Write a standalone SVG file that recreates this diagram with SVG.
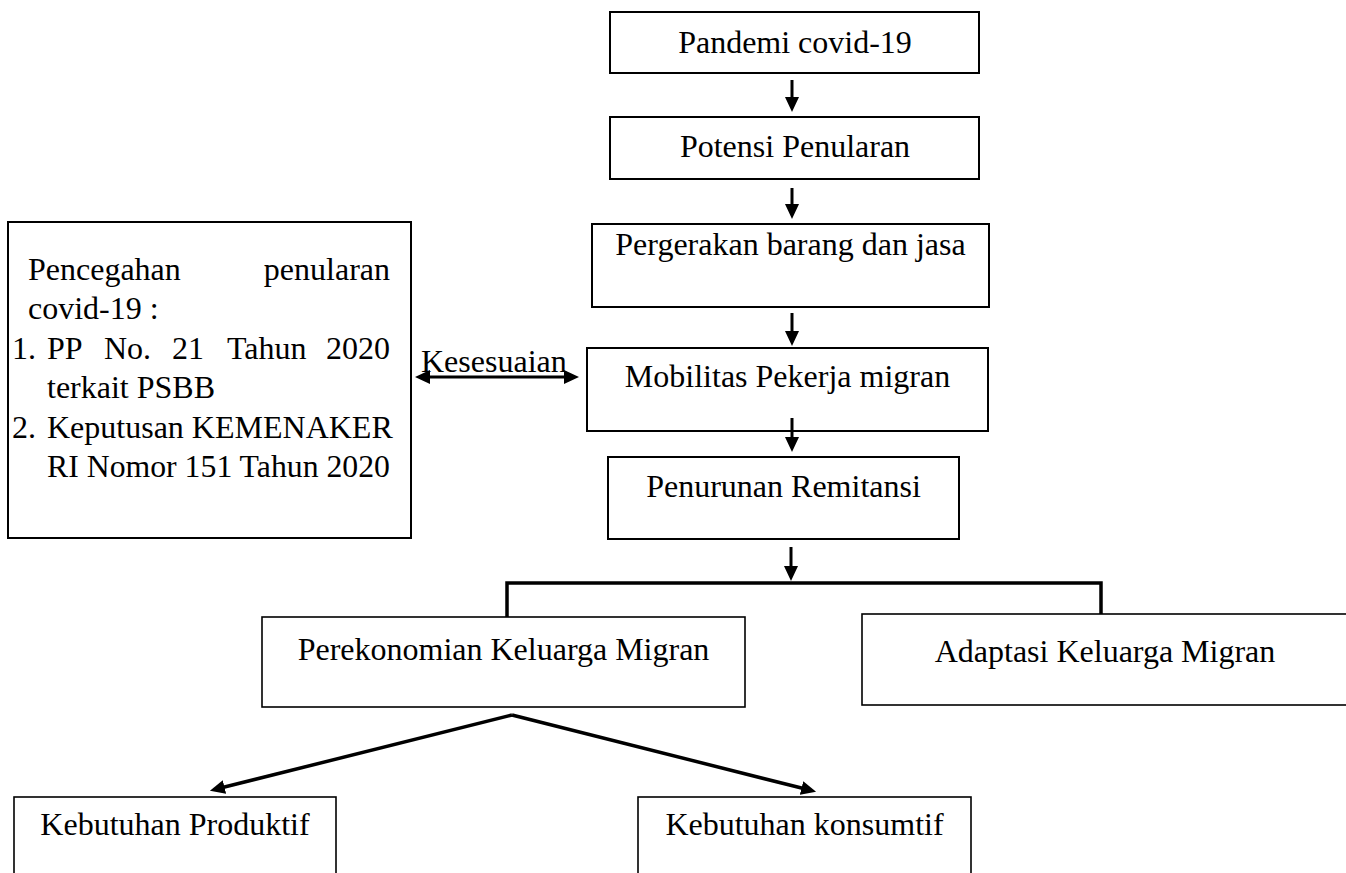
<svg xmlns="http://www.w3.org/2000/svg" width="1346" height="873" viewBox="0 0 1346 873">
<style>
  .box { fill: #ffffff; stroke: #000000; stroke-width: 2; }
  .box2 { fill: #ffffff; stroke: #000000; stroke-width: 1.6; }
  text { font-family: "Liberation Serif", "Times New Roman", serif; font-size: 32px; fill: #000000; }
  .c { text-anchor: middle; }
  .e { text-anchor: end; }
  .arr { stroke: #000000; stroke-width: 3; fill: none; }
  .thick { stroke: #000000; stroke-width: 3.5; fill: none; }
</style>
<defs>
  <marker id="ah" viewBox="0 -8 16 16" markerWidth="16" markerHeight="16" refX="1" refY="0" orient="auto-start-reverse" markerUnits="userSpaceOnUse">
    <path d="M0,-7 L15,0 L0,7 z" fill="#000000"/>
  </marker>
</defs>
<rect width="1346" height="873" fill="#ffffff"/>

<g id="n-pandemi">
  <rect class="box" x="610" y="12" width="369" height="61"/>
  <text class="c" x="795" y="53">Pandemi covid-19</text>
</g>
<g id="n-potensi">
  <rect class="box" x="610" y="117" width="369" height="62"/>
  <text class="c" x="795" y="157">Potensi Penularan</text>
</g>
<g id="n-pergerakan">
  <rect class="box" x="592" y="224" width="397" height="83"/>
  <text class="c" x="790.5" y="255">Pergerakan barang dan jasa</text>
</g>
<g id="n-mobilitas">
  <rect class="box" x="587" y="348" width="401" height="83"/>
  <text class="c" x="787.5" y="387">Mobilitas Pekerja migran</text>
</g>
<g id="n-penurunan">
  <rect class="box" x="608" y="457" width="351" height="82"/>
  <text class="c" x="783.5" y="497">Penurunan Remitansi</text>
</g>
<g id="n-pencegahan">
  <rect class="box" x="8" y="222" width="403" height="316"/>
  <text x="28" y="280">Pencegahan</text>
  <text class="e" x="390" y="280">penularan</text>
  <text x="28" y="319">covid-19 :</text>
  <text x="12" y="359">1.</text>
  <text x="47" y="359">PP</text>
  <text x="104" y="359">No.</text>
  <text x="172" y="359">21</text>
  <text x="227" y="359">Tahun</text>
  <text class="e" x="390" y="359">2020</text>
  <text x="47" y="398">terkait PSBB</text>
  <text x="12" y="438">2.</text>
  <text x="47" y="438">Keputusan KEMENAKER</text>
  <text x="47" y="477" textLength="343" lengthAdjust="spacingAndGlyphs">RI Nomor 151 Tahun 2020</text>
</g>
<g id="n-perekonomian">
  <rect class="box2" x="262" y="617" width="483" height="90"/>
  <text class="c" x="503.5" y="660">Perekonomian Keluarga Migran</text>
</g>
<g id="n-adaptasi">
  <rect class="box2" x="862" y="614" width="500" height="91"/>
  <text class="c" x="1105" y="662">Adaptasi Keluarga Migran</text>
</g>
<g id="n-produktif">
  <rect class="box2" x="14" y="797" width="322" height="100"/>
  <text class="c" x="175" y="835">Kebutuhan Produktif</text>
</g>
<g id="n-konsumtif">
  <rect class="box2" x="638" y="797" width="333" height="100"/>
  <text class="c" x="804.5" y="835">Kebutuhan konsumtif</text>
</g>

<g id="connectors">
  <line class="arr" x1="792" y1="80" x2="792" y2="98" marker-end="url(#ah)"/>
  <line class="arr" x1="792" y1="188" x2="792" y2="205" marker-end="url(#ah)"/>
  <line class="arr" x1="792" y1="313" x2="792" y2="332" marker-end="url(#ah)"/>
  <line class="arr" x1="792" y1="418" x2="792" y2="438" marker-end="url(#ah)"/>
  <line class="arr" x1="791" y1="547" x2="791" y2="567" marker-end="url(#ah)"/>
  <polyline class="thick" points="507,617 507,583 1101,583 1101,614"/>
  <line class="arr" x1="429" y1="377" x2="565" y2="377" marker-start="url(#ah)" marker-end="url(#ah)"/>
  <text x="421" y="372">Kesesuaian</text>
  <line class="thick" x1="512" y1="715" x2="223.5" y2="787.3" marker-end="url(#ah)"/>
  <line class="thick" x1="512" y1="715" x2="802.5" y2="788.3" marker-end="url(#ah)"/>
</g>
</svg>
